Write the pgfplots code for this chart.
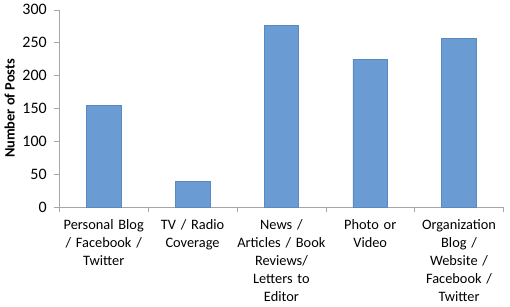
\documentclass[border=0pt]{standalone}
\usepackage{pgfplots}
\pgfplotsset{compat=1.18}
\usepackage{fontspec}
\setmainfont{Carlito}
\definecolor{barfill}{HTML}{6A9BD3}
\definecolor{baredge}{HTML}{5A89C0}
\definecolor{axgray}{HTML}{A6A6A6}
\begin{document}
\begin{tikzpicture}
\begin{axis}[
  scale only axis,
  width=334pt, height=148.5pt,
  xmin=-0.5, xmax=4.5,
  ymin=0, ymax=300,
  ytick={0,50,...,300},
  xtick={0,1,2,3,4},
  xticklabels={{Personal Blog\\/ Facebook /\\Twitter},{TV / Radio\\Coverage},{News /\\Articles / Book\\Reviews/\\Letters to\\Editor},{Photo or\\Video},{Organization\\Blog /\\Website /\\Facebook /\\Twitter}},
  x tick label style={align=center, font=\fontsize{10.8}{13.5}\selectfont, text width=70pt, yshift=-2pt},
  y tick label style={font=\fontsize{12}{14}\selectfont, xshift=-2pt},
  /pgf/number format/assume math mode=true,
  major x tick style={draw=none},
  minor xtick={-0.5,0.5,1.5,2.5,3.5,4.5},
  minor x tick style={draw=axgray},
  minor tick length=4pt,
  major tick length=4pt,
  tick align=outside,
  ytick pos=left,
  xtick pos=bottom,
  axis x line*=bottom,
  axis y line*=left,
  axis line style={draw=axgray},
  y tick style={draw=axgray},
  ylabel={\bfseries Number of Posts},
  ylabel style={font=\fontsize{10.8}{13}\selectfont, yshift=-1pt},
  ybar, bar width=26pt,
  clip=false,
]
\addplot[fill=barfill, draw=baredge] coordinates {(0,155) (1,39) (2,276) (3,225) (4,256)};
\end{axis}
\end{tikzpicture}
\end{document}
